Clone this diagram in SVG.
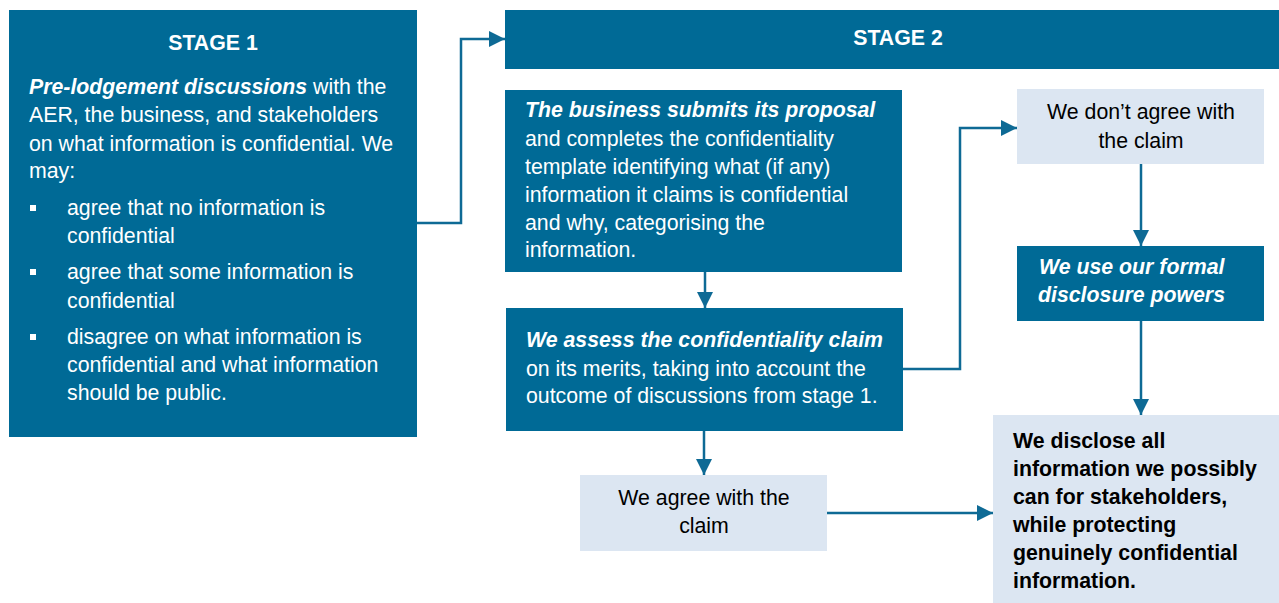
<svg xmlns="http://www.w3.org/2000/svg" width="1279" height="603" viewBox="0 0 1279 603">
<style>
.dark{fill:#006A96}
.light{fill:#DCE6F2}
text{font-family:"Liberation Sans",Arial,sans-serif;font-size:21.3px}
.w{fill:#ffffff}
.k{fill:#000000}
.b{font-weight:bold}
.bi{font-weight:bold;font-style:italic}
.c{text-anchor:middle}
.con{fill:none;stroke:#0E6A95;stroke-width:2.5}
</style>
<defs>
<marker id="ah" markerWidth="16" markerHeight="16" viewBox="0 0 16 16" refX="16" refY="8" orient="auto" markerUnits="userSpaceOnUse">
<path d="M0,0 L16,8 L0,16 Z" fill="#0E6A95"/>
</marker>
</defs>
<rect width="1279" height="603" fill="#ffffff"/>

<g id="connectors">
<path class="con" d="M417,223 H461 V39 H505" marker-end="url(#ah)"/>
<path class="con" d="M705,272 V308" marker-end="url(#ah)"/>
<path class="con" d="M704,431 V475" marker-end="url(#ah)"/>
<path class="con" d="M903,369 H960 V128 H1017" marker-end="url(#ah)"/>
<path class="con" d="M1141,164 V246" marker-end="url(#ah)"/>
<path class="con" d="M1141,321 V415" marker-end="url(#ah)"/>
<path class="con" d="M827,513 H993" marker-end="url(#ah)"/>
</g>

<g id="stage1">
<rect class="dark" x="9" y="10" width="408" height="427"/>
<text class="w b c" x="213" y="50">STAGE 1</text>
<text class="w" x="29" y="94"><tspan class="bi">Pre-lodgement discussions</tspan> with the</text>
<text class="w" x="29" y="122">AER, the business, and stakeholders</text>
<text class="w" x="29" y="151">on what information is confidential. We</text>
<text class="w" x="29" y="178">may:</text>
<rect fill="#ffffff" x="30" y="205" width="6" height="6"/>
<text class="w" x="67" y="215">agree that no information is</text>
<text class="w" x="67" y="243">confidential</text>
<rect fill="#ffffff" x="30" y="269" width="6" height="6"/>
<text class="w" x="67" y="279">agree that some information is</text>
<text class="w" x="67" y="308">confidential</text>
<rect fill="#ffffff" x="30" y="334" width="6" height="6"/>
<text class="w" x="67" y="344">disagree on what information is</text>
<text class="w" x="67" y="372">confidential and what information</text>
<text class="w" x="67" y="400">should be public.</text>
</g>

<g id="stage2">
<rect class="dark" x="505" y="10" width="774" height="59"/>
<text class="w b c" x="898" y="45">STAGE 2</text>
</g>

<g id="submit">
<rect class="dark" x="505" y="90" width="397" height="182"/>
<text class="w bi" x="525" y="117">The business submits its proposal</text>
<text class="w" x="525" y="146">and completes the confidentiality</text>
<text class="w" x="525" y="174">template identifying what (if any)</text>
<text class="w" x="525" y="202">information it claims is confidential</text>
<text class="w" x="525" y="230">and why, categorising the</text>
<text class="w" x="525" y="257">information.</text>
</g>

<g id="assess">
<rect class="dark" x="506" y="308" width="397" height="123"/>
<text class="w bi" x="526" y="347">We assess the confidentiality claim</text>
<text class="w" x="526" y="376">on its merits, taking into account the</text>
<text class="w" x="526" y="403">outcome of discussions from stage 1.</text>
</g>

<g id="agree">
<rect class="light" x="580" y="475" width="247" height="76"/>
<text class="k c" x="704" y="505">We agree with the</text>
<text class="k c" x="704" y="533">claim</text>
</g>

<g id="disagree">
<rect class="light" x="1017" y="89" width="247" height="75"/>
<text class="k c" x="1141" y="119">We don’t agree with</text>
<text class="k c" x="1141" y="148">the claim</text>
</g>

<g id="formal">
<rect class="dark" x="1017" y="246" width="247" height="75"/>
<text class="w bi" x="1039" y="274">We use our formal</text>
<text class="w bi" x="1038" y="302">disclosure powers</text>
</g>

<g id="disclose">
<rect class="light" x="993" y="415" width="286" height="188"/>
<text class="k b" x="1013" y="448">We disclose all</text>
<text class="k b" x="1013" y="476">information we possibly</text>
<text class="k b" x="1013" y="504">can for stakeholders,</text>
<text class="k b" x="1013" y="532">while protecting</text>
<text class="k b" x="1013" y="560">genuinely confidential</text>
<text class="k b" x="1013" y="588">information.</text>
</g>
</svg>
